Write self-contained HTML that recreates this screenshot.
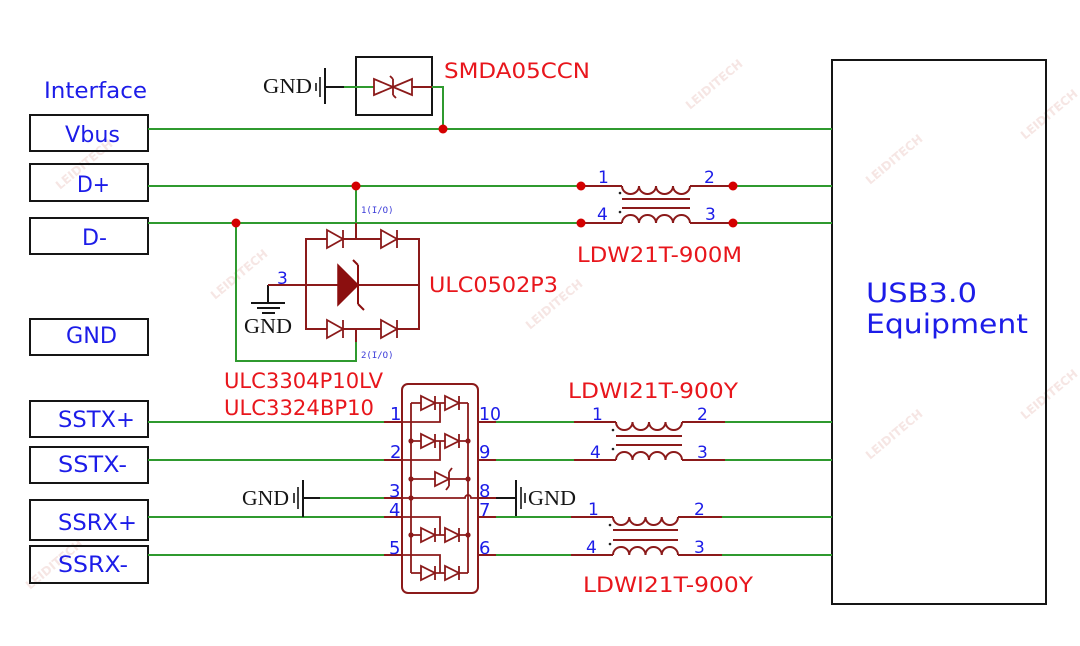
<!DOCTYPE html>
<html><head><meta charset="utf-8"><style>
html,body{margin:0;padding:0;background:#fff;}
svg{display:block;}
</style></head><body>
<svg width="1080" height="646" viewBox="0 0 1080 646" xmlns="http://www.w3.org/2000/svg">
<rect width="1080" height="646" fill="#fff"/>

<!-- faint watermarks -->
<g fill="#f6e6e4" font-family="DejaVu Sans, sans-serif" font-size="12" font-weight="bold">
<text transform="translate(60,190) rotate(-40)">LEIDITECH</text>
<text transform="translate(215,300) rotate(-40)">LEIDITECH</text>
<text transform="translate(530,330) rotate(-40)">LEIDITECH</text>
<text transform="translate(690,110) rotate(-40)">LEIDITECH</text>
<text transform="translate(870,185) rotate(-40)">LEIDITECH</text>
<text transform="translate(1025,140) rotate(-40)">LEIDITECH</text>
<text transform="translate(870,460) rotate(-40)">LEIDITECH</text>
<text transform="translate(1025,420) rotate(-40)">LEIDITECH</text>
<text transform="translate(30,590) rotate(-40)">LEIDITECH</text>
</g>

<g fill="none" stroke-linecap="butt">
<!-- boxes -->
<g stroke="#151515" stroke-width="2">
<rect x="30" y="115" width="118" height="36"/>
<rect x="30" y="164" width="118" height="37"/>
<rect x="30" y="218" width="118" height="36"/>
<rect x="30" y="319" width="118" height="36"/>
<rect x="30" y="401" width="118" height="36"/>
<rect x="30" y="447" width="118" height="36"/>
<rect x="30" y="500" width="118" height="40"/>
<rect x="30" y="546" width="118" height="37"/>
<rect x="832" y="60" width="214" height="544"/>
<rect x="356" y="57" width="76" height="58"/>
</g>

<!-- green wires -->
<g stroke="#2f9a2f" stroke-width="2">
<path d="M148,129 H832"/>
<path d="M432,87 H443 V129"/>
<path d="M344,87 H374"/>
<path d="M148,186 H581 M733,186 H832"/>
<path d="M148,223 H581 M733,223 H832"/>
<path d="M356,186 V223"/>
<path d="M236,223 V361 H356 V342"/>
<path d="M148,422 H384 M496,422 H574 M725,422 H832"/>
<path d="M148,460 H384 M496,460 H574 M725,460 H832"/>
<path d="M320,498 H384"/>
<path d="M148,517 H384 M496,517 H571 M722,517 H832"/>
<path d="M148,555 H384 M496,555 H571 M722,555 H832"/>
</g>

<!-- black GND wires -->
<g stroke="#151515" stroke-width="2">
<path d="M325,87 H344"/>
<path d="M325,68 V104"/>
<path d="M303,498 H320"/>
<path d="M303,480 V517"/>
<path d="M496,498 H516"/>
<path d="M516,480 V516"/>
<path d="M268,285 V303"/>
<path d="M251,303 H285"/>
<path d="M257,308 H280"/>
<path d="M262,313 H275"/>
</g>
<g stroke="#151515" stroke-width="1.6">
<path d="M320,77 V97 M316,83 V91"/>
<path d="M298,487 V509 M294,493 V503"/>
<path d="M521,487 V509 M525,493 V503"/>
</g>

<!-- dark red parts -->
<g stroke="#8b1a1a" stroke-width="2">
<path d="M412,87 H432"/>
<path d="M581,186 H622 M690,186 H733"/>
<path d="M581,223 H622 M690,223 H733"/>
<path d="M356,223 V239 M356,342 V329"/>
<path d="M306,239 H419 V329 H306 Z"/>
<path d="M268,285 H419"/>
<!-- coils LDW21T -->
<path d="M622,186 a8.5,8 0 0 0 17,0 a8.5,8 0 0 0 17,0 a8.5,8 0 0 0 17,0 a8.5,8 0 0 0 17,0"/>
<path d="M622,223 a8.5,8 0 0 1 17,0 a8.5,8 0 0 1 17,0 a8.5,8 0 0 1 17,0 a8.5,8 0 0 1 17,0"/>
<path d="M622,199 H690 M622,208 H690"/>
<!-- coils SSTX -->
<path d="M574,422 H616 M682,422 H725 M574,460 H616 M682,460 H725"/>
<path d="M616,422 a8.25,8 0 0 0 16.5,0 a8.25,8 0 0 0 16.5,0 a8.25,8 0 0 0 16.5,0 a8.25,8 0 0 0 16.5,0"/>
<path d="M616,460 a8.25,8 0 0 1 16.5,0 a8.25,8 0 0 1 16.5,0 a8.25,8 0 0 1 16.5,0 a8.25,8 0 0 1 16.5,0"/>
<path d="M616,436 H682 M616,445 H682"/>
<!-- coils SSRX -->
<path d="M571,517 H613 M678,517 H722 M571,555 H613 M678,555 H722"/>
<path d="M613,517 a8.125,8 0 0 0 16.25,0 a8.125,8 0 0 0 16.25,0 a8.125,8 0 0 0 16.25,0 a8.125,8 0 0 0 16.25,0"/>
<path d="M613,555 a8.125,8 0 0 1 16.25,0 a8.125,8 0 0 1 16.25,0 a8.125,8 0 0 1 16.25,0 a8.125,8 0 0 1 16.25,0"/>
<path d="M613,530 H678 M613,540 H678"/>
<!-- ULC3304 pins outside -->
<path d="M384,422 H402 M384,460 H402 M384,498 H402 M384,517 H402 M384,555 H402"/>
<path d="M478,422 H496 M478,460 H496 M478,498 H496 M478,517 H496 M478,555 H496"/>
<!-- package -->
<rect x="402" y="384" width="76" height="209" rx="6"/>
</g>

<!-- package internals -->
<g stroke="#8b1a1a" stroke-width="1.8">
<path d="M411,403 V573 M468,403 V573"/>
<path d="M411,403 H468 M411,441 H468 M411,479 H468 M411,535 H468 M411,573 H468"/>
<path d="M402,422 H440 V403"/>
<path d="M402,460 H440 V441"/>
<path d="M402,498 H465 a3,3 0 0 1 6,0 H478"/>
<path d="M402,517 H440 V535"/>
<path d="M402,555 H440 V573"/>
</g>

<!-- diodes (outline) -->
<g stroke="#8b1a1a" stroke-width="1.8" fill="#fff">
<!-- bridge top -->
<path d="M327,230 L327,248 L343,239 Z M343,230 V248"/>
<path d="M381,230 L381,248 L397,239 Z M397,230 V248"/>
<!-- bridge bottom -->
<path d="M327,320 L327,338 L343,329 Z M343,320 V338"/>
<path d="M381,320 L381,338 L397,329 Z M397,320 V338"/>
<!-- SMDA bidirectional -->
<path d="M374,79 L374,95 L393,87 Z"/>
<path d="M412,79 L412,95 L393,87 Z"/>
<path d="M393,79 V95 M393,79 L390,76 M393,95 L396,98" fill="none"/>
<!-- package diodes -->
<path d="M421,396 L421,410 L435,403 Z M435,396 V410"/>
<path d="M445,396 L445,410 L459,403 Z M459,396 V410"/>
<path d="M421,434 L421,448 L435,441 Z M435,434 V448"/>
<path d="M445,434 L445,448 L459,441 Z M459,434 V448"/>
<path d="M435,472 L435,486 L449,479 Z"/>
<path d="M449,472 V486 M449,472 L452,468 M449,486 L446,490" fill="none"/>
<path d="M421,528 L421,542 L435,535 Z M435,528 V542"/>
<path d="M445,528 L445,542 L459,535 Z M459,528 V542"/>
<path d="M421,566 L421,580 L435,573 Z M435,566 V580"/>
<path d="M445,566 L445,580 L459,573 Z M459,566 V580"/>
</g>

<!-- TVS filled -->
<path d="M338,265 L338,305 L358,285 Z" fill="#8b0f0f" stroke="#8b0f0f" stroke-width="1.5"/>
<path d="M358,265 V304 M358,265 L353,260 M358,304 L364,310" stroke="#8b0f0f" stroke-width="2" fill="none"/>
</g>

<!-- junction dots -->
<g fill="#d40000">
<circle cx="443" cy="129" r="4.5"/>
<circle cx="356" cy="186" r="4.5"/>
<circle cx="581" cy="186" r="4.5"/>
<circle cx="733" cy="186" r="4.5"/>
<circle cx="236" cy="223" r="4.5"/>
<circle cx="581" cy="223" r="4.5"/>
<circle cx="733" cy="223" r="4.5"/>
</g>
<g fill="#8b1a1a">
<circle cx="411" cy="441" r="2.6"/><circle cx="468" cy="441" r="2.6"/>
<circle cx="411" cy="479" r="2.6"/><circle cx="468" cy="479" r="2.6"/>
<circle cx="411" cy="498" r="2.6"/>
<circle cx="411" cy="535" r="2.6"/><circle cx="468" cy="535" r="2.6"/>
</g>
<g fill="#222">
<circle cx="620" cy="193" r="1.3"/><circle cx="620" cy="212" r="1.3"/>
<circle cx="613" cy="430" r="1.3"/><circle cx="613" cy="449" r="1.3"/>
<circle cx="610" cy="525" r="1.3"/><circle cx="610" cy="544" r="1.3"/>
</g>

<!-- blue labels -->
<g fill="#1c1ce8" font-family="DejaVu Sans, Liberation Sans, sans-serif" font-size="22">
<text x="44" y="98" textLength="103" lengthAdjust="spacingAndGlyphs">Interface</text>
<text x="65" y="142" textLength="55" lengthAdjust="spacingAndGlyphs">Vbus</text>
<text x="77" y="192" textLength="33" lengthAdjust="spacingAndGlyphs">D+</text>
<text x="82" y="245" textLength="25" lengthAdjust="spacingAndGlyphs">D-</text>
<text x="66" y="343" textLength="51" lengthAdjust="spacingAndGlyphs">GND</text>
<text x="58" y="427" textLength="77" lengthAdjust="spacingAndGlyphs">SSTX+</text>
<text x="58" y="472" textLength="69" lengthAdjust="spacingAndGlyphs">SSTX-</text>
<text x="58" y="530" textLength="79" lengthAdjust="spacingAndGlyphs">SSRX+</text>
<text x="58" y="572" textLength="70" lengthAdjust="spacingAndGlyphs">SSRX-</text>
<text x="866" y="302" font-size="27" textLength="111" lengthAdjust="spacingAndGlyphs">USB3.0</text>
<text x="866" y="333" font-size="27" textLength="162" lengthAdjust="spacingAndGlyphs">Equipment</text>
</g>

<!-- pin numbers -->
<g fill="#1c1ce8" font-family="DejaVu Sans, Liberation Sans, sans-serif" font-size="17">
<text x="277" y="284">3</text>
<text x="598" y="183">1</text>
<text x="704" y="183">2</text>
<text x="597" y="220">4</text>
<text x="705" y="220">3</text>
<text x="592" y="420">1</text>
<text x="697" y="420">2</text>
<text x="590" y="458">4</text>
<text x="697" y="458">3</text>
<text x="588" y="515">1</text>
<text x="694" y="515">2</text>
<text x="586" y="553">4</text>
<text x="694" y="553">3</text>
</g>
<g fill="#1c1ce8" font-family="DejaVu Sans, Liberation Sans, sans-serif" font-size="18">
<text x="390" y="420">1</text>
<text x="390" y="458">2</text>
<text x="389" y="497">3</text>
<text x="389" y="516">4</text>
<text x="389" y="554">5</text>
<text x="479" y="420" textLength="22" lengthAdjust="spacingAndGlyphs">10</text>
<text x="479" y="458">9</text>
<text x="479" y="497">8</text>
<text x="479" y="516">7</text>
<text x="479" y="554">6</text>
</g>
<g fill="#3a3ad8" font-family="DejaVu Sans Mono, Liberation Mono, monospace" font-size="9">
<text x="361" y="213">1(I/O)</text>
<text x="361" y="358">2(I/O)</text>
</g>

<!-- red part labels -->
<g fill="#e8161c" font-family="DejaVu Sans, Liberation Sans, sans-serif" font-size="21">
<text x="444" y="78" textLength="146" lengthAdjust="spacingAndGlyphs">SMDA05CCN</text>
<text x="429" y="292" textLength="129" lengthAdjust="spacingAndGlyphs">ULC0502P3</text>
<text x="577" y="262" textLength="165" lengthAdjust="spacingAndGlyphs">LDW21T-900M</text>
<text x="224" y="388" textLength="159" lengthAdjust="spacingAndGlyphs">ULC3304P10LV</text>
<text x="224" y="415" textLength="150" lengthAdjust="spacingAndGlyphs">ULC3324BP10</text>
<text x="568" y="398" textLength="170" lengthAdjust="spacingAndGlyphs">LDWI21T-900Y</text>
<text x="583" y="592" textLength="170" lengthAdjust="spacingAndGlyphs">LDWI21T-900Y</text>
</g>

<!-- GND labels (serif) -->
<g fill="#151515" font-family="Liberation Serif, serif" font-size="21">
<text x="263" y="93" textLength="49" lengthAdjust="spacingAndGlyphs">GND</text>
<text x="244" y="333" textLength="48" lengthAdjust="spacingAndGlyphs">GND</text>
<text x="242" y="505" textLength="47" lengthAdjust="spacingAndGlyphs">GND</text>
<text x="528" y="505" textLength="48" lengthAdjust="spacingAndGlyphs">GND</text>
</g>
</svg>
</body></html>
